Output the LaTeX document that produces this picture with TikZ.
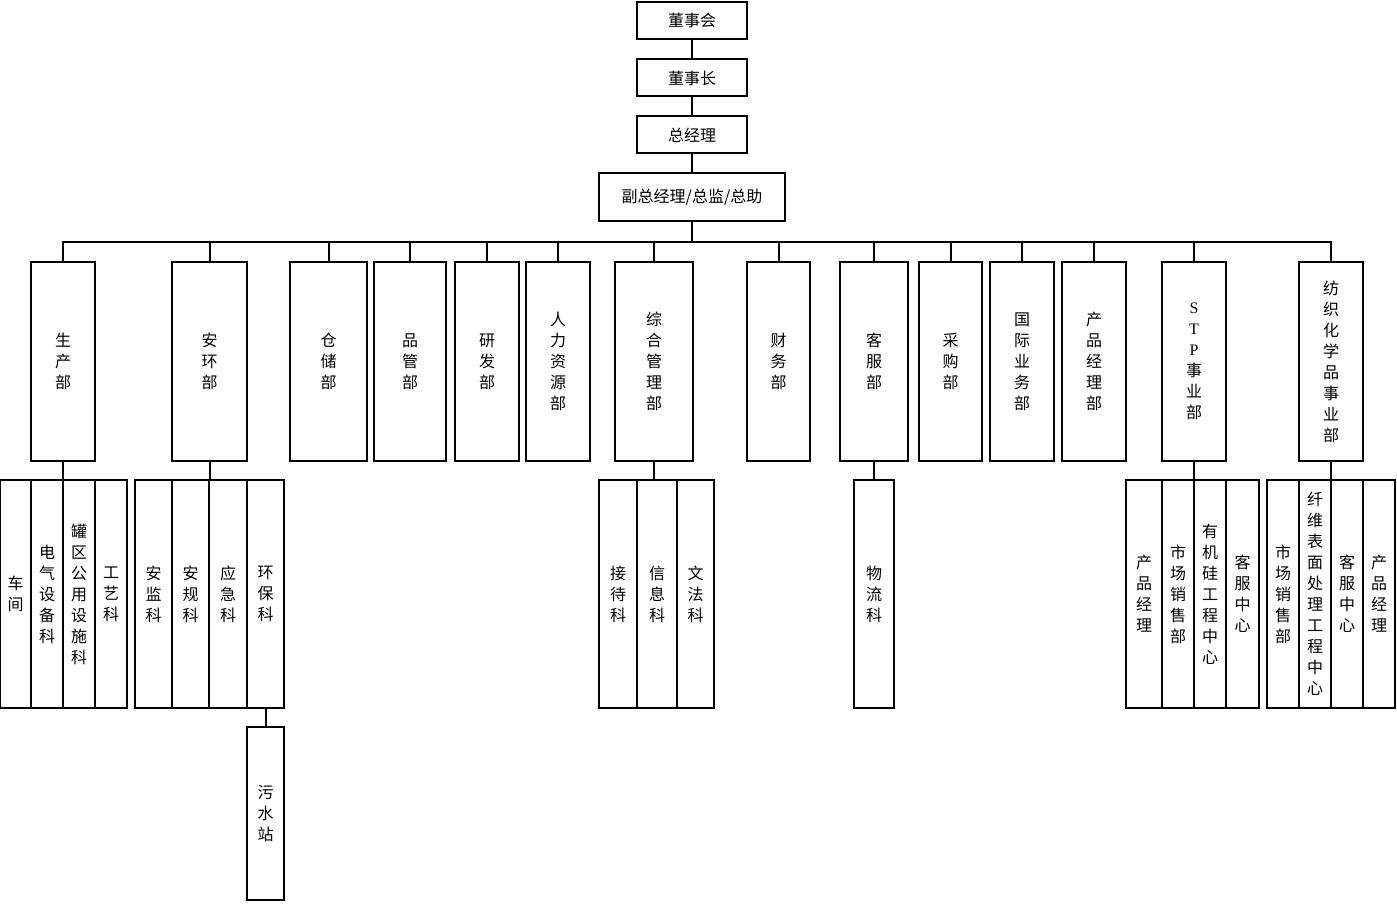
\documentclass[tikz,border=0pt]{standalone}
\usepackage{fontspec}
\setmainfont{Liberation Serif}
\newfontfamily\cjk{Noto Sans CJK SC}
\usetikzlibrary{positioning}

\begin{document}
\begin{tikzpicture}[
  x=1pt, y=-1pt,
  box/.style={draw, line width=2pt, inner sep=0pt, outer sep=0pt, align=center, font=\cjk\fontsize{16}{21}\selectfont},
  headbox/.style={box, minimum width=110pt, minimum height=37pt},
  dept/.style={box, minimum height=199pt},
  subbox/.style={box, minimum height=228pt},
  link/.style={line width=2pt}
]
\useasboundingbox (0,0) rectangle (1397,904);
\node[headbox] (dsh) at (692,20.5) {董事会};
\node[headbox] (dsz) at (692,78) {董事长};
\node[headbox] (zjl) at (692,135) {总经理};
\node[box, minimum width=186pt, minimum height=48pt] (fzj) at (692,197) {副总经理/总监/总助};
\node[dept, minimum width=64pt] (scb) at (63,361.5) {生\\产\\部};
\node[dept, minimum width=75pt] (ahb) at (209.5,361.5) {安\\环\\部};
\node[dept, minimum width=77pt] (ccb) at (328.5,361.5) {仓\\储\\部};
\node[dept, minimum width=72pt] (pgb) at (410,361.5) {品\\管\\部};
\node[dept, minimum width=64pt] (yfb) at (487,361.5) {研\\发\\部};
\node[dept, minimum width=64pt] (rlb) at (558,361.5) {人\\力\\资\\源\\部};
\node[dept, minimum width=78pt] (zhb) at (654,361.5) {综\\合\\管\\理\\部};
\node[dept, minimum width=63pt] (cwb) at (778.5,361.5) {财\\务\\部};
\node[dept, minimum width=68pt] (kfb) at (874,361.5) {客\\服\\部};
\node[dept, minimum width=63pt] (cgb) at (950.5,361.5) {采\\购\\部};
\node[dept, minimum width=64pt] (gjb) at (1022,361.5) {国\\际\\业\\务\\部};
\node[dept, minimum width=64pt] (cpb) at (1094,361.5) {产\\品\\经\\理\\部};
\node[dept, minimum width=64pt] (stp) at (1194,361.5) {{\rmfamily S}\\{\rmfamily T}\\{\rmfamily P}\\事\\业\\部};
\node[dept, minimum width=64pt] (fzb) at (1331,361.5) {纺\\织\\化\\学\\品\\事\\业\\部};
\node[subbox, minimum width=31pt] (cj) at (15.5,594) {车\\间};
\node[subbox, minimum width=32pt] (dq) at (47,594) {电\\气\\设\\备\\科};
\node[subbox, minimum width=32pt] (gq) at (79,594) {罐\\区\\公\\用\\设\\施\\科};
\node[subbox, minimum width=32pt] (gy) at (111,594) {工\\艺\\科};
\node[subbox, minimum width=37pt] (aj) at (153.5,594) {安\\监\\科};
\node[subbox, minimum width=37pt] (ag) at (190.5,594) {安\\规\\科};
\node[subbox, minimum width=38pt] (yj) at (228,594) {应\\急\\科};
\node[subbox, minimum width=37pt] (hb) at (265.5,594) {环\\保\\科};
\node[box, minimum width=37pt, minimum height=173pt] (ws) at (265.5,813.5) {污\\水\\站};
\node[subbox, minimum width=38pt] (jd) at (618,594) {接\\待\\科};
\node[subbox, minimum width=40pt] (xx) at (657,594) {信\\息\\科};
\node[subbox, minimum width=37pt] (wf) at (695.5,594) {文\\法\\科};
\node[subbox, minimum width=40pt] (wl) at (874,594) {物\\流\\科};
\node[subbox, minimum width=36pt] (cpj) at (1144,594) {产\\品\\经\\理};
\node[subbox, minimum width=32pt] (scx) at (1178,594) {市\\场\\销\\售\\部};
\node[subbox, minimum width=32pt] (yjg) at (1210,594) {有\\机\\硅\\工\\程\\中\\心};
\node[subbox, minimum width=33pt] (kfz) at (1242.5,594) {客\\服\\中\\心};
\node[subbox, minimum width=32pt] (scxb) at (1283,594) {市\\场\\销\\售\\部};
\node[subbox, minimum width=32pt] (xwb) at (1315,594) {纤\\维\\表\\面\\处\\理\\工\\程\\中\\心};
\node[subbox, minimum width=32pt] (kfzb) at (1347,594) {客\\服\\中\\心};
\node[subbox, minimum width=32pt] (cpjb) at (1379,594) {产\\品\\经\\理};
\draw[link] (dsh) -- (dsz);
\draw[link] (dsz) -- (zjl);
\draw[link] (zjl) -- (fzj);
\foreach \d in {scb,ahb,ccb,pgb,yfb,rlb,zhb,cwb,kfb,cgb,gjb,cpb,stp,fzb}
  \draw[link] (\d.north) -- ++(0,-20) -| (fzj.south);
\draw[link] (scb.south) -- (scb.south |- gq.north);
\draw[link] (ahb.south) -- (ahb.south |- yj.north);
\draw[link] (hb.south) -- (ws.north);
\draw[link] (zhb.south) -- (zhb.south |- xx.north);
\draw[link] (kfb.south) -- (wl.north);
\draw[link] (stp.south) -- (stp.south |- yjg.north);
\draw[link] (fzb.south) -- (fzb.south |- kfzb.north);
\end{tikzpicture}
\end{document}
